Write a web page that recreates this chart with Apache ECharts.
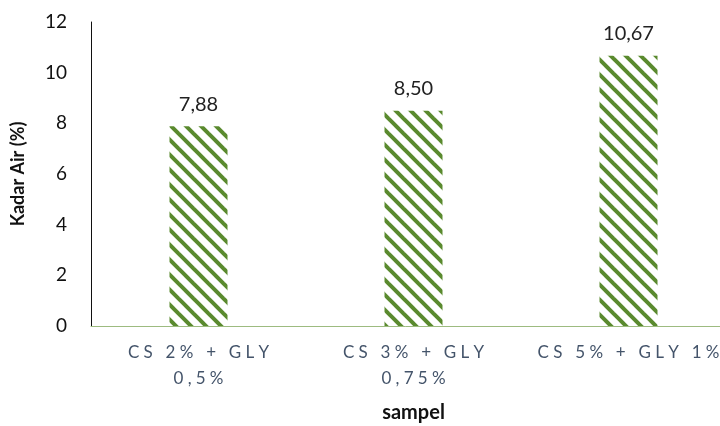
<!DOCTYPE html>
<html>
<head>
<meta charset="utf-8">
<script src="https://cdn.jsdelivr.net/npm/echarts@6/dist/echarts.min.js"></script>
<style>
  html, body { margin: 0; padding: 0; background: #fff; }
  #chart { width: 720px; height: 426px; }
</style>
</head>
<body>
<div id="chart"></div>
<script>
// data
var categories = ["CS 2% + GLY\n0,5%", "CS 3% + GLY\n0,75%", "CS 5% + GLY 1%"];
var kadarAir = [7.88, 8.50, 10.67];
var yTicks = [0, 2, 4, 6, 8, 10, 12];

// spaced-out letters like the excel label
function spread(s) {
  return s.split("\n").map(function (line) {
    return line.split("").join("\u2005");
  }).join("\n");
}

// diagonal hatch pattern
function makeHatch() {
  var c = document.createElement("canvas");
  var n = 15;
  c.width = n; c.height = n;
  var ctx = c.getContext("2d");
  ctx.fillStyle = "#ffffff";
  ctx.fillRect(0, 0, n, n);
  ctx.strokeStyle = "#5a8a2e";
  ctx.lineWidth = 4;
  for (var k = -1; k <= 1; k++) {
    ctx.beginPath();
    ctx.moveTo(k * n - 2, -2);
    ctx.lineTo(k * n + n + 2, n + 2);
    ctx.stroke();
  }
  return c;
}

var myChart = echarts.init(document.getElementById("chart"));
myChart.setOption({
  animation: false,
  textStyle: { fontFamily: "Lato" },
  grid: { left: 91, right: -16, top: 22, bottom: 100, outerBoundsMode: "none" },
  xAxis: {
    type: "category",
    data: categories,
    name: "sampel",
    nameLocation: "middle",
    nameGap: 77,
    nameTextStyle: { fontSize: 20, fontWeight: "bold", color: "#111" },
    axisLine: { lineStyle: { color: "#9dbb80", width: 1 } },
    axisTick: { show: false },
    axisLabel: {
      interval: 0,
      margin: 14,
      fontSize: 17,
      lineHeight: 26,
      color: "#44546a",
      formatter: function (v) { return spread(v); }
    }
  },
  yAxis: {
    type: "value",
    min: yTicks[0],
    max: yTicks[yTicks.length - 1],
    interval: 2,
    name: "Kadar Air (%)",
    nameLocation: "middle",
    nameGap: 64,
    nameTextStyle: { fontSize: 18, fontWeight: "bold", color: "#111" },
    axisLine: { show: true, lineStyle: { color: "#111", width: 1 } },
    axisTick: { show: false },
    splitLine: { show: false },
    axisLabel: { fontSize: 19, color: "#111", margin: 24 }
  },
  series: [{
    type: "bar",
    data: kadarAir,
    barWidth: 58,
    itemStyle: { color: { image: makeHatch(), repeat: "repeat" } },
    label: {
      show: true,
      position: "top",
      distance: 12,
      fontSize: 20,
      color: "#222",
      formatter: function (p) { return p.value.toFixed(2).replace(".", ","); }
    }
  }]
});
</script>
</body>
</html>
